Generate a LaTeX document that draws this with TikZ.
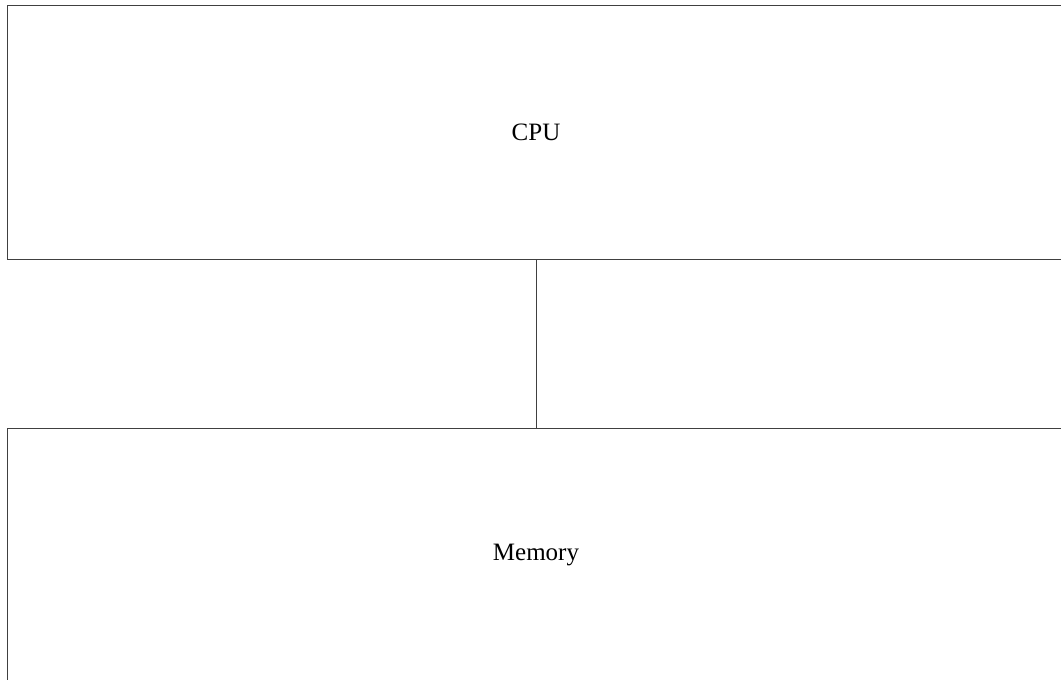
\documentclass[tikz,border=0pt]{standalone}
\usepackage{fontspec}
\setmainfont{Liberation Serif}
\begin{document}
\begin{tikzpicture}[x=1pt,y=-1pt,
  unit/.style={draw=black!75, line width=1pt, minimum width=1057pt, minimum height=254pt, inner sep=0pt, font=\fontsize{25}{30}\selectfont},
  link/.style={draw=black!75, line width=1pt}]
\useasboundingbox (0,0) rectangle (1061,680);
\clip (0,0) rectangle (1061,680);
\node[unit] (cpu) at (536,132.5) {CPU};
\node[unit] (mem) at (536,555.5) {Memory};
\draw[link] (cpu.south) -- (mem.north);
\end{tikzpicture}
\end{document}
